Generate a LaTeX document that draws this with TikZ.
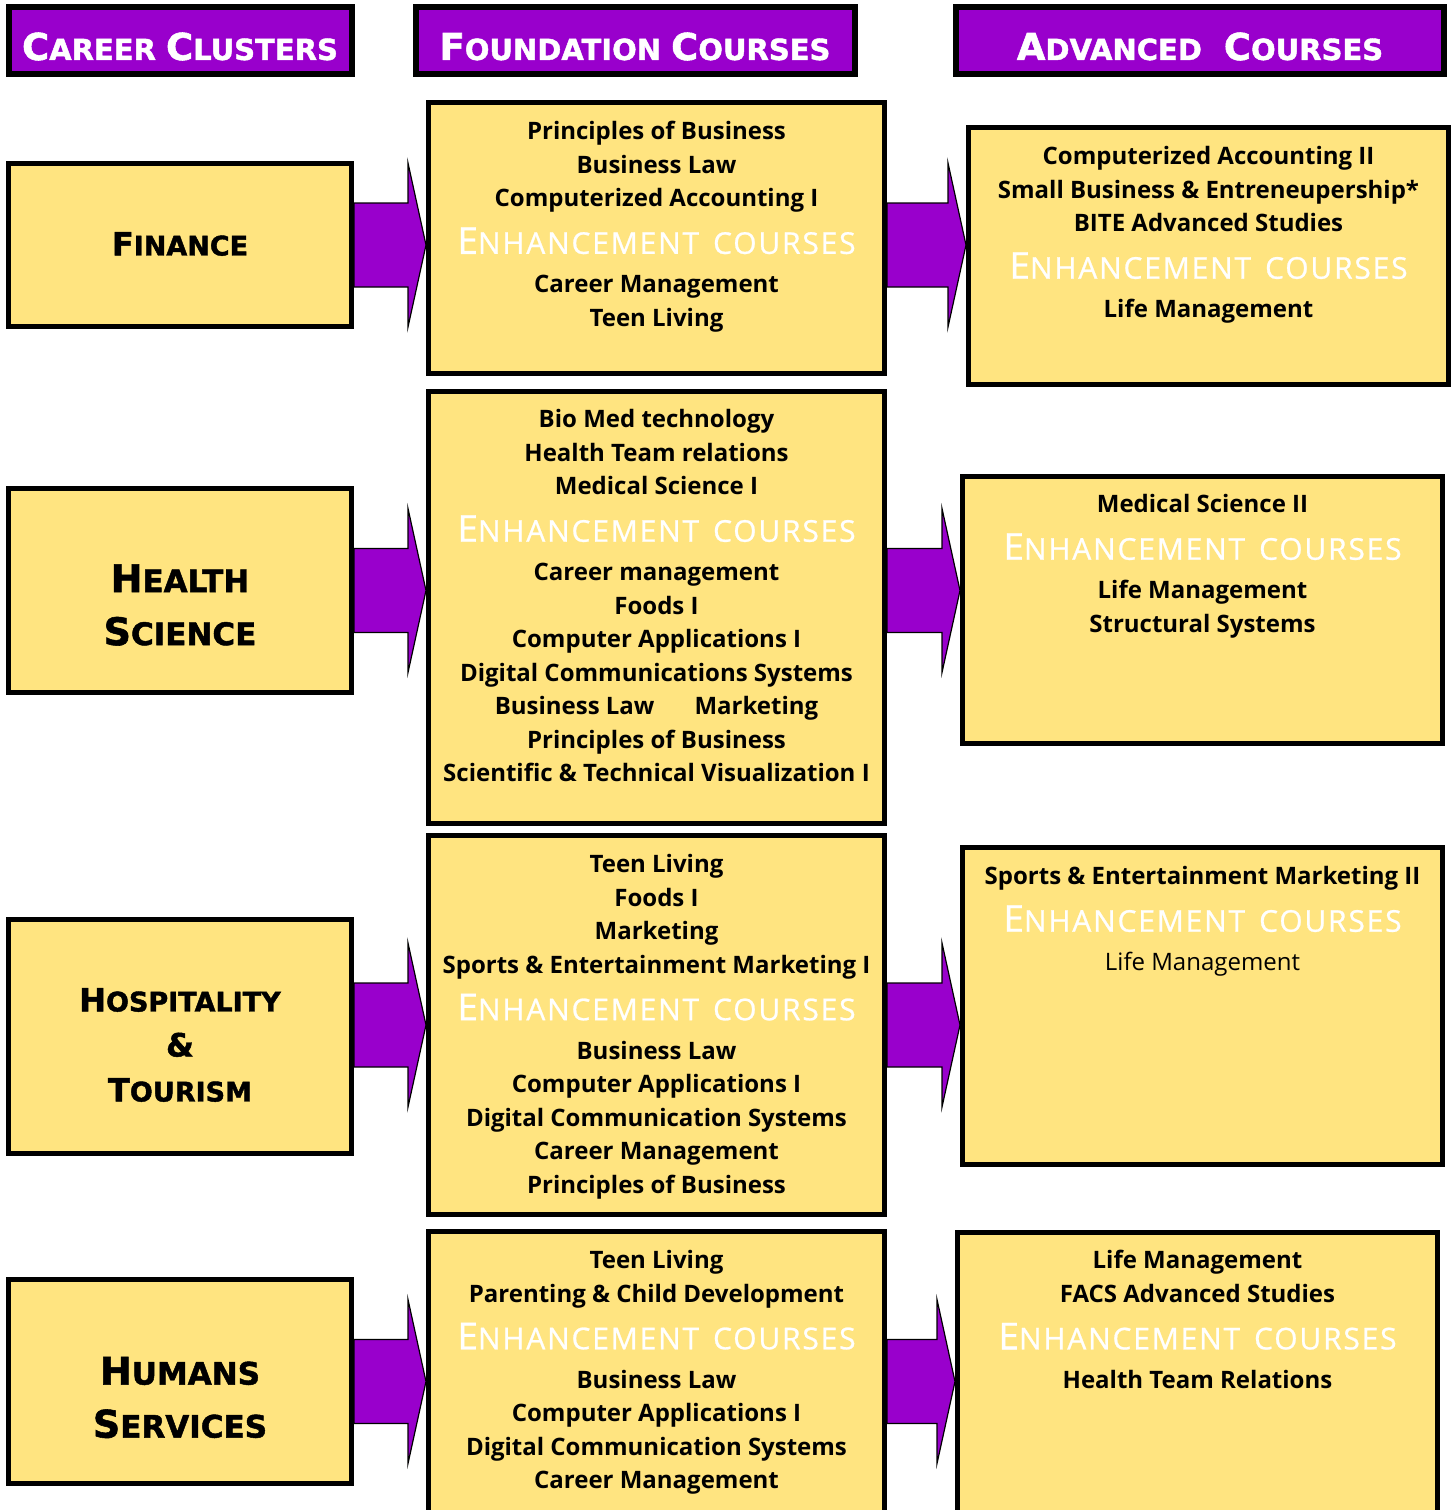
\documentclass[tikz,border=0pt]{standalone}
\usepackage{fontspec}
\setmainfont{Open Sans}
\newfontfamily\headfont[BoldFeatures={FakeBold=1.5}]{DejaVu Sans}
\newfontfamily\enhfont[FakeBold=0.8,LetterSpace=6]{Open Sans}
\usetikzlibrary{calc}
\definecolor{clusterpurple}{HTML}{9900CC}
\definecolor{boxyellow}{HTML}{FFE480}

\newcommand{\hcap}[2]{{\fontsize{37}{40}\selectfont #1}#2}
\newcommand{\ccap}[2]{{\fontsize{32}{36}\selectfont #1}#2}
\newcommand{\Ccap}[2]{{\fontsize{38}{40}\selectfont #1}{\fontsize{31}{36}\selectfont #2}}
\newcommand{\enh}{{\color{white}\enhfont\mdseries\fontsize{30}{33.5}\selectfont{\fontsize{37}{37}\selectfont E}NHANCEMENT\hspace{14pt}COURSES}}
\newcommand{\blockarrow}[3]{%
  \filldraw[bigarrow] ($(#1.east |- #3.center)+(0,-42)$) -- ($(#2.west |- #3.center)+(-18,-42)$)
    -- ($(#2.west |- #3.center)+(-18,-82)$) -- (#2.west |- #3.center)
    -- ($(#2.west |- #3.center)+(-18,82)$) -- ($(#2.west |- #3.center)+(-18,42)$)
    -- ($(#1.east |- #3.center)+(0,42)$) -- cycle;}

\begin{document}
\begin{tikzpicture}[x=1pt, y=-1pt, line width=1pt,
    headbox/.style={draw=black, line width=6pt, fill=clusterpurple, minimum height=67},
    coursebox/.style={draw=black, line width=5pt, fill=boxyellow},
    headtext/.style={text=white, font=\headfont\bfseries\fontsize{29}{32}\selectfont},
    clusterlabel/.style={align=center, font=\headfont\bfseries\fontsize{27}{53}\selectfont},
    coursetext/.style={anchor=north, align=center, inner sep=0pt, font=\bfseries\fontsize{24}{33.5}\selectfont},
    bigarrow/.style={draw=black, line width=1.2pt, fill=clusterpurple}]
   	 \useasboundingbox (0,0) rectangle (1452,1510);
   	 \clip (0,0) rectangle (1452,1510);

   	 \node[headbox, minimum width=343] (cchead) at (180,40) {};
   	 \node[headbox, minimum width=439] (fchead) at (635,40) {};
   	 \node[headbox, minimum width=488] (achead) at (1199.5,40) {};
   	 \node[headtext] (cctext) at (180,46.5) {\hcap{C}{AREER} \hcap{C}{LUSTERS}};
   	 \node[headtext] (fctext) at (635,46.5) {\hcap{F}{OUNDATION} \hcap{C}{OURSES}};
   	 \node[headtext] (actext) at (1200,46.5) {\hcap{A}{DVANCED}\hspace{22pt}\hcap{C}{OURSES}};

   	 \node[coursebox, minimum width=343, minimum height=163] (fin) at (180,245) {};
   	 \node[coursebox, minimum width=343, minimum height=204] (hea) at (180,590.5) {};
   	 \node[coursebox, minimum width=343, minimum height=234] (hos) at (180,1036.5) {};
   	 \node[coursebox, minimum width=343, minimum height=204] (hum) at (180,1381.5) {};
   	 \node[clusterlabel] (finlbl) at (180,244) {\ccap{F}{INANCE}};
   	 \node[clusterlabel] (healbl) at (180,605) {\Ccap{H}{EALTH}\\\Ccap{S}{CIENCE}};
   	 \node[clusterlabel] (hoslbl) at (180,1045) {\ccap{H}{OSPITALITY}\\[-8pt]\ccap{\&}{}\\[-8pt]\ccap{T}{OURISM}};
   	 \node[clusterlabel] (humlbl) at (180,1397.5) {\Ccap{H}{UMANS}\\\Ccap{S}{ERVICES}};

   	 \node[coursebox, minimum width=456, minimum height=271] (fnd1) at (656.5,238) {};
   	 \node[coursebox, minimum width=456, minimum height=432] (fnd2) at (656.5,607.5) {};
   	 \node[coursebox, minimum width=456, minimum height=379] (fnd3) at (656.5,1025) {};
   	 \node[coursebox, minimum width=456, minimum height=296] (fnd4) at (656.5,1379.5) {};
   	 \node[coursebox, minimum width=480, minimum height=257] (adv1) at (1208.5,256) {};
   	 \node[coursebox, minimum width=480, minimum height=267] (adv2) at (1202.5,610) {};
   	 \node[coursebox, minimum width=480, minimum height=317] (adv3) at (1202.5,1006) {};
   	 \node[coursebox, minimum width=480, minimum height=295] (adv4) at (1197.5,1380) {};

   	 \node[coursetext] (fnd1text) at (656.5,121) {Principles of Business\\Business Law\\Computerized Accounting I\\[13.5pt]
   	   \enh\\[5.5pt]Career Management\\Teen Living};
   	 \node[coursetext] (fnd2text) at (656.5,409) {Bio Med technology\\Health Team relations\\Medical Science I\\[13.5pt]
   	   \enh\\[5.5pt]Career management\\Foods I\\Computer Applications I\\Digital Communications Systems\\
   	   Business Law\hspace{40pt}Marketing\\Principles of Business\\Scientific \& Technical Visualization I};
   	 \node[coursetext] (fnd3text) at (656.5,854) {Teen Living\\Foods I\\Marketing\\Sports \& Entertainment Marketing I\\[13.5pt]
   	   \enh\\[5.5pt]Business Law\\Computer Applications I\\Digital Communication Systems\\Career Management\\Principles of Business};
   	 \node[coursetext] (fnd4text) at (656.5,1250) {Teen Living\\Parenting \& Child Development\\[13.5pt]
   	   \enh\\[5.5pt]Business Law\\Computer Applications I\\Digital Communication Systems\\Career Management};

   	 \node[coursetext] (adv1text) at (1208.5,146) {Computerized Accounting II\\Small Business \& Entreneupership*\\BITE Advanced Studies\\[13.5pt]
   	   \enh\\[5.5pt]Life Management};
   	 \node[coursetext] (adv2text) at (1202.5,494) {Medical Science II\\[13.5pt]\enh\\[5.5pt]Life Management\\Structural Systems};
   	 \node[coursetext] (adv3text) at (1202.5,866) {Sports \& Entertainment Marketing II\\[13.5pt]\enh\\[5.5pt]{\mdseries Life Management}};
   	 \node[coursetext] (adv4text) at (1197.5,1250) {Life Management\\FACS Advanced Studies\\[13.5pt]\enh\\[5.5pt]Health Team Relations};

   	 \blockarrow{fin}{fnd1}{fin}
   	 \blockarrow{fnd1}{adv1}{fin}
   	 \blockarrow{hea}{fnd2}{hea}
   	 \blockarrow{fnd2}{adv2}{hea}
   	 \blockarrow{hos}{fnd3}{fnd3}
   	 \blockarrow{fnd3}{adv3}{fnd3}
   	 \blockarrow{hum}{fnd4}{hum}
   	 \blockarrow{fnd4}{adv4}{hum}
\end{tikzpicture}
\end{document}
